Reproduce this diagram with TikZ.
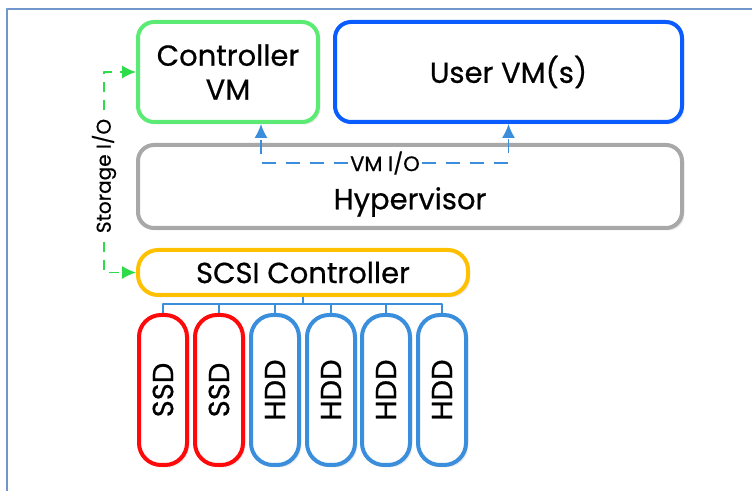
\documentclass[tikz,border=0pt]{standalone}
\usepackage{fontspec}
\setmainfont{Poppins}[FakeBold=0.6]
\usetikzlibrary{positioning,arrows.meta,shadows}
\definecolor{cvmgreen}{HTML}{5BEB74}
\definecolor{uvmblue}{HTML}{0A5CFF}
\definecolor{hypgray}{HTML}{A8A8A8}
\definecolor{scsiorange}{HTML}{FFC000}
\definecolor{ssdred}{HTML}{FF0A0A}
\definecolor{hddblue}{HTML}{3A8EDC}
\definecolor{iogreen}{HTML}{2EDB4A}
\definecolor{framblue}{HTML}{7096CC}
\tikzset{
  box/.style={draw, fill=white, line width=2pt, rounded corners=8pt, align=center,
    inner sep=0pt, font=\fontsize{14.5}{17}\selectfont,
    drop shadow={opacity=0.18, shadow xshift=1.2pt, shadow yshift=-1.2pt}},
  disk/.style={box, rounded corners=11pt, minimum width=75pt,
    minimum height=24pt, rotate=90},
  io/.style={dashed, dash pattern=on 7pt off 5pt, line width=0.7pt,
    -{Latex[length=7pt,width=6.5pt]}},
}
\begin{document}
\begin{tikzpicture}[x=0.5pt,y=-0.5pt,line join=round]
  \useasboundingbox (0,0) rectangle (752,491);
  \draw[framblue, line width=0.8pt] (752,9) -- (7,9) -- (7,491);

  % VMs and hypervisor
  \node[box, draw=cvmgreen, minimum width=90pt, minimum height=50pt] (cvm) at (228,72) {Controller\\VM};
  \node[box, draw=uvmblue, minimum width=173.5pt, minimum height=50pt] (uvm) at (508.5,72) {User VM(s)};
  \node[box, draw=hypgray, minimum width=272pt, minimum height=41.5pt] (hyp) at (410,186.5) {};
  \node[font=\fontsize{14.5}{17}\selectfont] (hyptext) at (410,202) {Hypervisor};
  \node[box, draw=scsiorange, minimum width=165pt, minimum height=22.5pt, rounded corners=10pt] (scsi) at (303,272.5) {SCSI Controller};

  % disks on the bus
  \foreach \i/\x/\lbl/\col in {1/163/SSD/ssdred, 2/219/SSD/ssdred, 3/275/HDD/hddblue,
      4/331/HDD/hddblue, 5/386/HDD/hddblue, 6/442/HDD/hddblue} {
    \node[disk, draw=\col] (d\i) at (\x,390) {\lbl};
    \draw[hddblue, line width=0.8pt] (scsi.south) -- (303,304) -| (d\i.east);
  }

  % I/O paths
  \node[font=\fontsize{10.5}{12}\selectfont, inner sep=1pt] (vmio) at (385,163) {VM I/O};
  \draw[io, hddblue] (vmio.west) -| ([xshift=16.5pt]cvm.south);
  \draw[io, hddblue] (vmio.east) -| (uvm.south);
  \node[font=\fontsize{10}{12}\selectfont, rotate=90, inner sep=4pt] (sio) at (104,176) {Storage I/O};
  \draw[io, iogreen, dash pattern=on 5pt off 4pt] (sio.east) |- (cvm.west);
  \draw[io, iogreen, dash pattern=on 5pt off 4pt] (sio.west) |- (scsi.west);
\end{tikzpicture}
\end{document}
